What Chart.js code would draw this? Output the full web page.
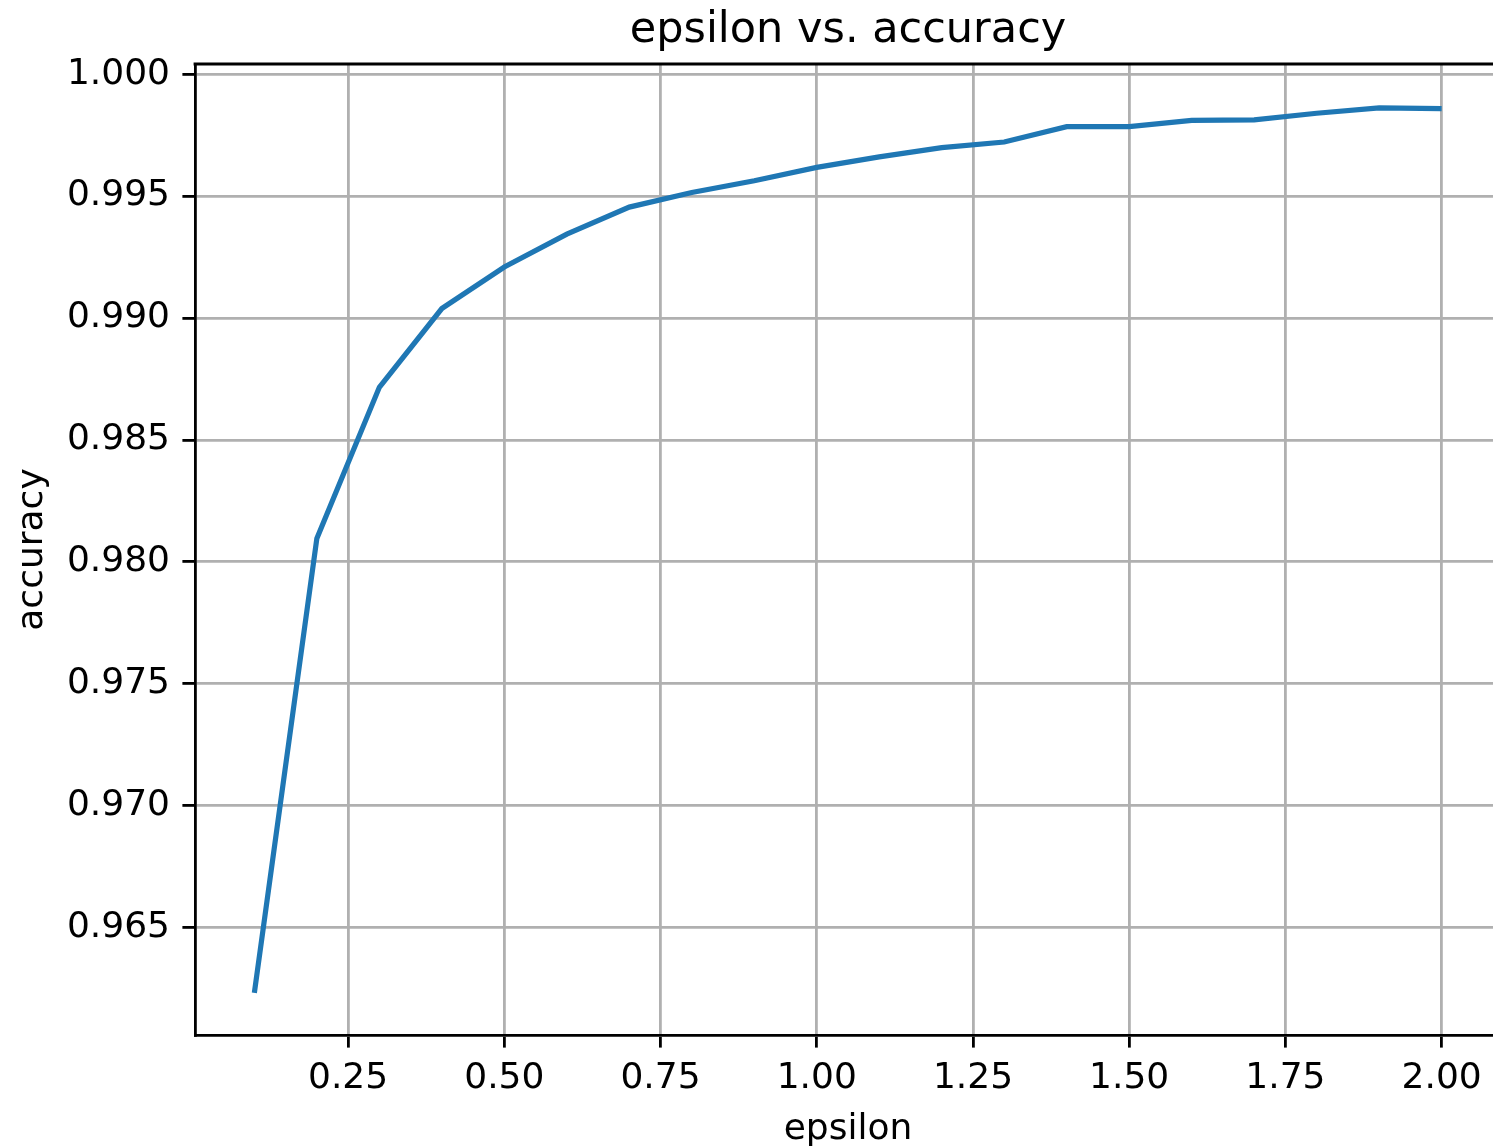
<!DOCTYPE html>
<html>
<head>
<meta charset="utf-8">
<script src="https://cdn.jsdelivr.net/npm/chart.js@4.4.1/dist/chart.umd.min.js"></script>
<style>
  html, body { margin: 0; padding: 0; background: #fff; }
  #wrap { width: 1493px; height: 1146px; overflow: hidden; }
</style>
</head>
<body>
<div id="wrap"><canvas id="chart" width="1501" height="1146"></canvas></div>
<script>
// epsilon values and accuracy
const epsilon = [0.1, 0.2, 0.3, 0.4, 0.5, 0.6, 0.7, 0.8, 0.9, 1.0,
  1.1, 1.2, 1.3, 1.4, 1.5, 1.6, 1.7, 1.8, 1.9, 2.0]
const accuracy = [0.96232, 0.98096, 0.98716, 0.99039, 0.99209, 0.99344, 0.99455, 0.99515, 0.99563, 0.99618,
  0.99661, 0.99699, 0.99722, 0.99785, 0.99785, 0.99811, 0.99813, 0.99840, 0.99862, 0.99859]

const xTicks = [0.25, 0.5, 0.75, 1.0, 1.25, 1.5, 1.75, 2.0]
const yTicks = [0.965, 0.970, 0.975, 0.980, 0.985, 0.990, 0.995, 1.000]

const FONT = 'DejaVu Sans'
const LW = 2.8

// matplotlib-like top and right spines
const frame = {
  id: 'frame',
  afterDraw(chart) {
    const { ctx, chartArea } = chart
    ctx.save()
    ctx.strokeStyle = '#000'
    ctx.lineWidth = LW
    ctx.beginPath()
    ctx.moveTo(chartArea.left - LW / 2, chartArea.top)
    ctx.lineTo(chartArea.right, chartArea.top)
    ctx.lineTo(chartArea.right, chartArea.bottom)
    ctx.stroke()
    ctx.restore()
  }
}

const ctx = document.getElementById('chart').getContext('2d')
new Chart(ctx, {
  type: 'line',
  data: {
    datasets: [{
      data: epsilon.map((e, i) => ({ x: e, y: accuracy[i] })),
      borderColor: '#1f77b4',
      borderWidth: 5.2,
      pointRadius: 0,
      tension: 0,
      fill: false
    }]
  },
  options: {
    responsive: false,
    animation: false,
    devicePixelRatio: 1,
    layout: { padding: 0 },
    plugins: {
      legend: { display: false },
      tooltip: { enabled: false },
      title: {
        display: true,
        text: 'epsilon vs. accuracy',
        fullSize: false,
        color: '#000',
        font: { family: FONT, size: 43, weight: 'normal', lineHeight: 0.95 },
        padding: { top: 10, bottom: 13.15 }
      }
    },
    scales: {
      x: {
        type: 'linear',
        min: 0.005,
        max: 2.095,
        afterBuildTicks: (scale) => { scale.ticks = xTicks.map((v) => ({ value: v })) },
        afterFit: (scale) => { scale.height = 111 },
        grid: { color: '#b0b0b0', lineWidth: LW, tickColor: '#000', tickWidth: LW, tickLength: 12.6 },
        border: { color: '#000', width: LW },
        ticks: {
          color: '#000',
          padding: 9,
          maxRotation: 0,
          font: { family: FONT, size: 36 },
          callback: (v) => v.toFixed(2)
        },
        title: {
          display: true,
          text: 'epsilon',
          color: '#000',
          font: { family: FONT, size: 36, lineHeight: 1 },
          padding: { top: 0, bottom: -1.5 }
        }
      },
      y: {
        type: 'linear',
        min: 0.96059,
        max: 1.00042,
        afterBuildTicks: (scale) => { scale.ticks = yTicks.map((v) => ({ value: v })) },
        afterFit: (scale) => { scale.width = 195 },
        grid: { color: '#b0b0b0', lineWidth: LW, tickColor: '#000', tickWidth: LW, tickLength: 12.6 },
        border: { color: '#000', width: LW },
        ticks: {
          color: '#000',
          padding: 12.4,
          font: { family: FONT, size: 36 },
          callback: (v) => v.toFixed(3)
        },
        title: {
          display: true,
          text: 'accuracy',
          color: '#000',
          font: { family: FONT, size: 36 },
          padding: { top: 10.7, bottom: 0 }
        }
      }
    }
  },
  plugins: [frame]
})
</script>
</body>
</html>
